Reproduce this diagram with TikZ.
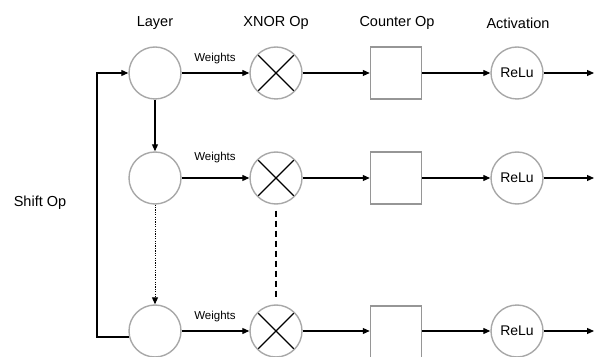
\documentclass[tikz,border=0pt]{standalone}
\usepackage{fontspec}
\setmainfont{Liberation Sans}
\usetikzlibrary{arrows.meta}
\definecolor{circgray}{RGB}{168,168,168}
\definecolor{boxgray}{RGB}{150,150,150}
\tikzset{
  neuron/.style={circle,draw=circgray,line width=1.4pt,minimum size=52pt,inner sep=0pt,font=\fontsize{14}{16}\selectfont},
  xnorop/.style={neuron,path picture={\draw[black,line width=1.3pt]
      ([shift={(-19pt,-19pt)}]path picture bounding box.center) -- ([shift={(19pt,19pt)}]path picture bounding box.center)
      ([shift={(-19pt,19pt)}]path picture bounding box.center) -- ([shift={(19pt,-19pt)}]path picture bounding box.center);}},
  counterbox/.style={rectangle,draw=boxgray,line width=1.5pt,minimum width=51pt,minimum height=52pt,inner sep=0pt},
  conn/.style={line width=1.1pt,-{Triangle[length=7pt,width=6pt]}},
  header/.style={font=\fontsize{14.5}{16}\selectfont},
  wlabel/.style={font=\fontsize{11.5}{13}\selectfont}
}
\begin{document}
\begin{tikzpicture}[x=1pt,y=1pt]
\useasboundingbox (0,0) rectangle (596,356);
% headers
\node[header] (hL) at (155,333) {Layer};
\node[header] (hX) at (276,333) {XNOR Op};
\node[header] (hC) at (397,333) {Counter Op};
\node[header] (hA) at (518,333) {Activation};
\node[header] (hS) at (40,153) {Shift Op};
% row 1
\node[neuron] (l1) at (155,283) {};
\node[xnorop] (x1) at (276,283) {};
\node[counterbox] (c1) at (396,283) {};
\node[neuron] (r1) at (517,283) {ReLu};
\coordinate (o1) at (594,283);
% row 2
\node[neuron] (l2) at (155,178) {};
\node[xnorop] (x2) at (276,178) {};
\node[counterbox] (c2) at (396,178) {};
\node[neuron] (r2) at (517,178) {ReLu};
\coordinate (o2) at (594,178);
% row 3
\node[neuron] (l3) at (155,25) {};
\node[xnorop] (x3) at (276,25) {};
\node[counterbox] (c3) at (396,24) {};
\node[neuron] (r3) at (517,25) {ReLu};
\coordinate (o3) at (594,25);
% weights labels
\node[wlabel] (w1) at (215,297) {Weights};
\node[wlabel] (w2) at (215,198) {Weights};
\node[wlabel] (w3) at (215,39) {Weights};
% horizontal connectors
\foreach \i in {1,2,3}{
  \draw[conn] (l\i) -- (x\i);
  \draw[conn] (x\i) -- (c\i.west |- x\i);
  \draw[conn] (c\i.east |- r\i) -- (r\i);
  \draw[conn] (r\i) -- (o\i);
}
% vertical connectors
\draw[conn] (l1) -- (l2);
\draw[line width=1pt,dash pattern=on 1.2pt off 1.2pt,-{Triangle[length=7pt,width=6pt]}] (l2) -- (l3);
\draw[line width=2.5pt,dash pattern=on 6pt off 4pt] ([yshift=-6pt]x2.south) -- ([yshift=7pt]x3.north);
% shift feedback
\draw[conn] (l3.193) -- ++(-32pt,0) |- (l1.west);
\end{tikzpicture}
\end{document}
